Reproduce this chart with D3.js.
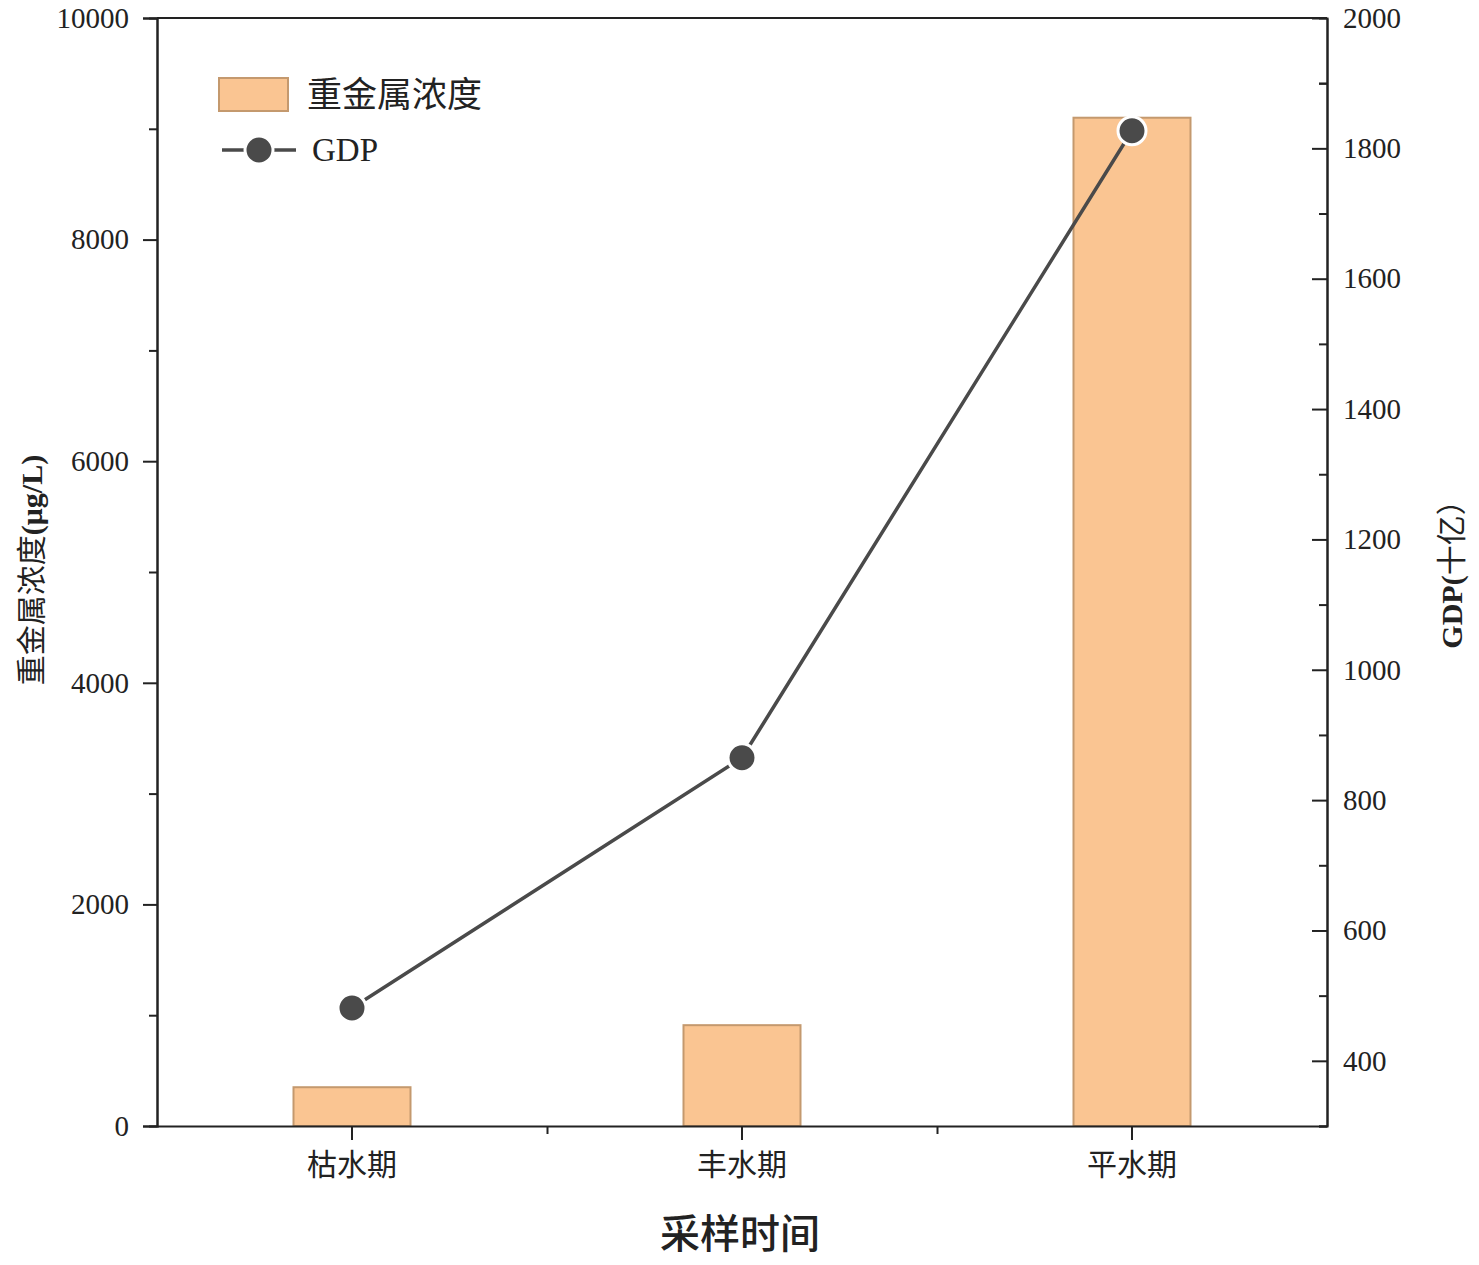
<!DOCTYPE html>
<html><head><meta charset="utf-8">
<script src="https://cdn.jsdelivr.net/npm/d3@7"></script>
<style>body{margin:0;background:#fff}</style>
</head><body>
<svg id="c" width="1479" height="1265"></svg>
<script>
const categories = ["枯水期", "丰水期", "平水期"];
const concValues = [350, 910, 9100];
const gdpValues = [481, 865, 1827];
const leftTicks = [0, 2000, 4000, 6000, 8000, 10000];
const rightTicks = [400, 600, 800, 1000, 1200, 1400, 1600, 1800, 2000];

const svg = d3.select("#c");
const L = 157, R = 1327, T = 18, B = 1126;
const serif = "'Liberation Serif','Times New Roman',serif";
const cjk = "'Liberation Serif','Noto Sans CJK SC',serif";
const x = d3.scaleBand().domain(categories).range([L, R]).padding(0);
const yL = d3.scaleLinear().domain([0, 10000]).range([B, T]);
const yR = d3.scaleLinear().domain([300, 2000]).range([B, T]);

// bars
svg.append("g").selectAll("rect").data(concValues).join("rect")
  .attr("x", (d, i) => x(categories[i]) + x.bandwidth() * 0.35)
  .attr("width", x.bandwidth() * 0.3)
  .attr("y", d => yL(d))
  .attr("height", d => B - yL(d))
  .attr("fill", "#FAC592").attr("stroke", "#C4996E").attr("stroke-width", 2);

// frame
svg.append("line").attr("x1", L).attr("x2", R).attr("y1", T).attr("y2", T).attr("stroke", "#222").attr("stroke-width", 2);

// left axis
const gl = svg.append("g").attr("transform", `translate(${L},0)`)
  .call(d3.axisLeft(yL).tickValues(d3.range(1000, 10000, 2000)).tickSize(8).tickFormat(""));
const glMaj = svg.append("g").attr("transform", `translate(${L},0)`)
  .call(d3.axisLeft(yL).tickValues(leftTicks).tickSize(14).tickPadding(14).tickFormat(d3.format("d")));
[gl, glMaj].forEach(g => {
  g.selectAll("path,line").attr("stroke", "#222").attr("stroke-width", 2);
  g.selectAll("text").attr("font-family", serif).attr("font-size", 29).attr("fill", "#222");
});

// right axis (ticks inward)
const grMin = svg.append("g").attr("transform", `translate(${R},0)`)
  .call(d3.axisLeft(yR).tickValues(d3.range(300, 2000, 200).concat([1900])).tickSize(8).tickFormat(""));
const grMaj = svg.append("g").attr("transform", `translate(${R},0)`)
  .call(d3.axisRight(yR).tickValues(rightTicks).tickSize(0).tickPadding(16).tickFormat(d3.format("d")));
grMaj.selectAll(".tick").append("line").attr("x2", -15);
[grMin, grMaj].forEach(g => {
  g.selectAll("path,line").attr("stroke", "#222").attr("stroke-width", 2);
  g.selectAll("text").attr("font-family", serif).attr("font-size", 29).attr("fill", "#222");
});

// x axis
const gxMin = svg.append("g").attr("transform", `translate(0,${B})`)
  .call(d3.axisBottom(d3.scaleLinear().domain([0, 3]).range([L, R])).tickValues([1, 2]).tickSize(8).tickFormat(""));
gxMin.select(".domain").remove();
const gx = svg.append("g").attr("transform", `translate(0,${B})`)
  .call(d3.axisBottom(x).tickSize(14).tickSizeOuter(0).tickPadding(14));
[gxMin, gx].forEach(g => {
  g.selectAll("path,line").attr("stroke", "#222").attr("stroke-width", 2);
  g.selectAll("text").attr("font-family", cjk).attr("font-size", 30).attr("fill", "#222");
});

// GDP line
const line = d3.line().x((d, i) => x(categories[i]) + x.bandwidth() / 2).y(d => yR(d));
svg.append("path").datum(gdpValues).attr("d", line).attr("fill", "none").attr("stroke", "#4a4a4a").attr("stroke-width", 3.5);
svg.append("g").selectAll("circle").data(gdpValues).join("circle")
  .attr("cx", (d, i) => x(categories[i]) + x.bandwidth() / 2)
  .attr("cy", d => yR(d)).attr("r", 14).attr("fill", "#4a4a4a").attr("stroke", "#fff").attr("stroke-width", 3);

// titles
svg.append("text").attr("x", 740).attr("y", 1248).attr("text-anchor", "middle")
  .attr("font-family", cjk).attr("font-size", 40).attr("font-weight", 500).attr("fill", "#222").text("采样时间");
const tl = svg.append("text").attr("transform", "translate(42,570) rotate(-90)").attr("text-anchor", "middle")
  .attr("font-family", cjk).attr("font-size", 30).attr("fill", "#222");
tl.append("tspan").text("重金属浓度");
tl.append("tspan").attr("font-weight", "bold").text("(μg/L)");
const tr = svg.append("text").attr("transform", "translate(1462,567) rotate(-90)").attr("text-anchor", "middle")
  .attr("font-family", cjk).attr("font-size", 30).attr("fill", "#222");
tr.append("tspan").attr("font-weight", "bold").text("GDP(");
tr.append("tspan").text("十亿）");

// legend
const lg = svg.append("g");
lg.append("rect").attr("x", 219).attr("y", 78).attr("width", 69).attr("height", 33)
  .attr("fill", "#FAC592").attr("stroke", "#C4996E").attr("stroke-width", 2);
lg.append("text").attr("x", 307).attr("y", 107).attr("font-family", cjk).attr("font-size", 35).attr("fill", "#222").text("重金属浓度");
lg.append("line").attr("x1", 222).attr("x2", 296).attr("y1", 150).attr("y2", 150).attr("stroke", "#4a4a4a").attr("stroke-width", 3.5);
lg.append("circle").attr("cx", 259).attr("cy", 150).attr("r", 14).attr("fill", "#4a4a4a").attr("stroke", "#fff").attr("stroke-width", 3);
lg.append("text").attr("x", 312).attr("y", 161).attr("font-family", serif).attr("font-size", 33).attr("fill", "#222").text("GDP");
</script>
</body></html>
